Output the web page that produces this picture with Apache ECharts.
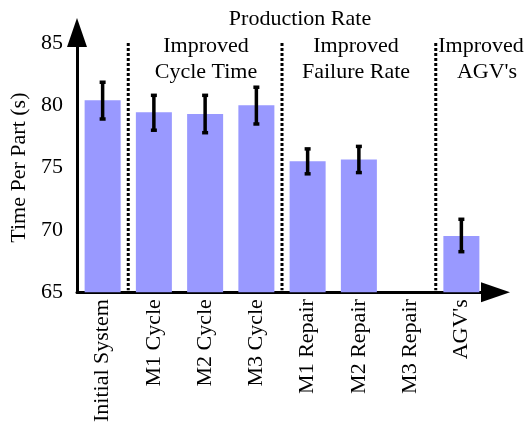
<!DOCTYPE html>
<html>
<head>
<meta charset="utf-8">
<script src="https://cdn.jsdelivr.net/npm/echarts@6/dist/echarts.min.js"></script>
<style>
html,body{margin:0;padding:0;background:#fff;}
#chart{width:531px;height:425px;}
</style>
</head>
<body>
<div id="chart"></div>
<script>
const categories = ['Initial System', 'M1 Cycle', 'M2 Cycle', 'M3 Cycle', 'M1 Repair', 'M2 Repair', 'M3 Repair', "AGV's"];
const timePerPart = [80.4, 79.45, 79.3, 80.0, 75.5, 75.65, null, 69.5];
const errorLow = [78.9, 78.0, 77.8, 78.5, 74.5, 74.6, null, 68.25];
const errorHigh = [81.85, 80.8, 80.8, 81.45, 76.5, 76.7, null, 70.85];
const separators = [1, 4, 7];
const groupLabels = [
  ['Improved', 'Cycle Time'],
  ['Improved', 'Failure Rate'],
  ['Improved', "AGV's"]
];
const yTicks = [65, 70, 75, 80, 85];

const FONT = '"Liberation Serif", "Times New Roman", serif';
const chart = echarts.init(document.getElementById('chart'), null, {renderer: 'canvas'});

const errData = [];
for (let i = 0; i < categories.length; i++) {
  if (errorLow[i] != null) errData.push([i, errorLow[i], errorHigh[i]]);
}

const groupX = [206, 356, 483];
const graphics = [{
  type: 'text', x: 300, y: 19,
  style: {text: 'Production Rate', font: '22px ' + FONT, fill: '#000', textAlign: 'center', textVerticalAlign: 'middle'}
}];
groupLabels.forEach((lines, g) => {
  lines.forEach((t, k) => {
    graphics.push({
      type: 'text', x: (g === 2 && k === 1) ? 487 : (g === 2 ? 481 : groupX[g]), y: 46 + k * 26,
      style: {text: t, font: '22px ' + FONT, fill: '#000', textAlign: 'center', textVerticalAlign: 'middle'}
    });
  });
});

chart.setOption({
  animation: false,
  backgroundColor: '#fff',
  grid: {left: 77, top: 43, width: 410, bottom: 129, containLabel: false},
  graphic: graphics,
  xAxis: [{
    type: 'category',
    data: categories,
    axisLine: {show: true, lineStyle: {color: '#000', width: 3}},
    axisTick: {show: false},
    axisLabel: {rotate: 90, margin: 7, color: '#000', fontFamily: FONT, fontSize: 22},
    splitLine: {show: false}
  }, {
    type: 'value', min: 0, max: 8, show: false
  }],
  yAxis: {
    type: 'value', min: 65, max: 85, interval: 5,
    name: 'Time Per Part (s)',
    nameLocation: 'middle', nameGap: 40,
    nameTextStyle: {color: '#000', fontFamily: FONT, fontSize: 22},
    axisLine: {show: true, lineStyle: {color: '#000', width: 3}},
    axisTick: {show: false},
    axisLabel: {margin: 14, color: '#000', fontFamily: FONT, fontSize: 22},
    splitLine: {show: false}
  },
  series: [{
    type: 'bar',
    data: timePerPart,
    barWidth: 36,
    itemStyle: {color: '#9999ff'},
    z: 2
  }, {
    type: 'custom',
    data: errData,
    z: 5,
    renderItem: function (params, api) {
      const x = api.value(0);
      const lo = api.coord([x, api.value(1)]);
      const hi = api.coord([x, api.value(2)]);
      const c = 3;
      const st = {stroke: '#000', lineWidth: 3.5};
      return {type: 'group', children: [
        {type: 'line', shape: {x1: lo[0], y1: lo[1], x2: hi[0], y2: hi[1]}, style: st},
        {type: 'line', shape: {x1: lo[0] - c, y1: lo[1], x2: lo[0] + c, y2: lo[1]}, style: st},
        {type: 'line', shape: {x1: hi[0] - c, y1: hi[1], x2: hi[0] + c, y2: hi[1]}, style: st}
      ]};
    }
  }, {
    type: 'custom',
    xAxisIndex: 1,
    data: separators.map(v => [v]),
    z: 4,
    clip: false,
    renderItem: function (params, api) {
      const top = api.coord([api.value(0), 85]);
      const bot = api.coord([api.value(0), 65]);
      return {type: 'line', shape: {x1: top[0], y1: top[1], x2: bot[0], y2: bot[1] - 2},
        style: {stroke: '#000', lineWidth: 3, lineDash: [3, 2]}};
    }
  }]
});

// arrowheads at the ends of both axes, positioned from the axes' own scales
const yTop = chart.convertToPixel({yAxisIndex: 0}, 85);
const yBot = chart.convertToPixel({yAxisIndex: 0}, 65);
const xLeft = chart.convertToPixel({xAxisIndex: 1}, 0);
const xRight = chart.convertToPixel({xAxisIndex: 1}, 8);
graphics.push({
  type: 'polygon', z: 100,
  shape: {points: [[xLeft, yTop - 25], [xLeft - 10, yTop + 4], [xLeft + 10, yTop + 4]]},
  style: {fill: '#000'}
});
graphics.push({
  type: 'polygon', z: 100,
  shape: {points: [[xRight + 23, yBot], [xRight - 6, yBot - 10], [xRight - 6, yBot + 10]]},
  style: {fill: '#000'}
});
chart.setOption({graphic: graphics});
</script>
</body>
</html>
